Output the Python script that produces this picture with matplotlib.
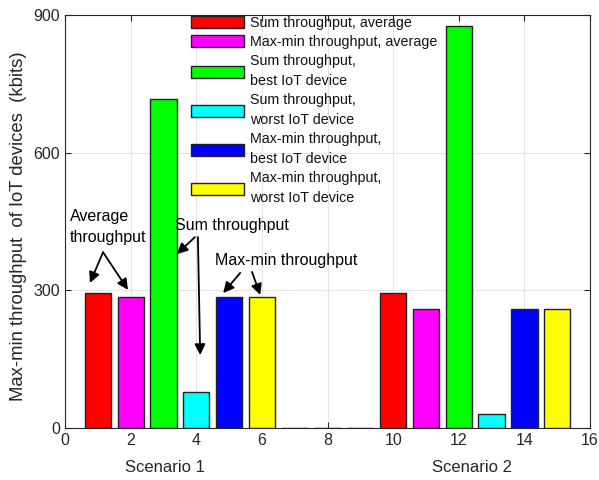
import matplotlib
matplotlib.use('Agg')
import matplotlib.pyplot as plt
import matplotlib.transforms as mtransforms

plt.rcParams['font.family'] = ['Liberation Sans', 'DejaVu Sans']

# data (kbits)
labels = ['Sum throughput, average',
          'Max-min throughput, average',
          'Sum throughput,\nbest IoT device',
          'Sum throughput,\nworst IoT device',
          'Max-min throughput,\nbest IoT device',
          'Max-min throughput,\nworst IoT device']
colors = ['#ff0000', '#ff00ff', '#00ff00', '#00ffff', '#0000ff', '#ffff00']
scenario1 = [295, 285, 718, 78, 285, 285]
scenario2 = [294, 260, 876, 30, 260, 260]
gap_pos = [7, 8, 9]
gap_vals = [0, 0, 0]
s1_start = 1
s2_start = 10
scenario_names = ['Scenario 1', 'Scenario 2']
scenario_x = [3.05, 12.4]

fig = plt.figure(figsize=(5.99, 4.8), dpi=100)
ax = fig.add_axes([65/599, 52/480, 525/599, 413/480])

dark = '#262626'
handles = []
for i in range(len(labels)):
    b = ax.bar([s1_start + i, s2_start + i], [scenario1[i], scenario2[i]], width=0.8,
               color=colors[i], edgecolor='#222222', linewidth=1.0, zorder=3, label=labels[i])
    handles.append(b)
ax.bar(gap_pos, gap_vals, width=0.8, color='w', edgecolor='#222222', linewidth=1.0, zorder=3)

ax.set_xlim(0, 16)
ax.set_ylim(0, 900)
ax.set_xticks(range(0, 17, 2))
ax.set_yticks([0, 300, 600, 900])
ax.grid(True, color='#e3e3e3', linewidth=0.8, zorder=0)
ax.set_axisbelow(True)
ax.tick_params(direction='in', top=True, right=True, labelsize=11.5, colors=dark, length=4)
for sp in ax.spines.values():
    sp.set_color(dark)
    sp.set_linewidth(0.8)

ax.set_ylabel('Max-min throughput  of IoT devices  (kbits)', fontsize=13.3, color=dark)
ax.yaxis.set_label_coords(-0.072, 0.488)

trans = mtransforms.blended_transform_factory(ax.transData, ax.transAxes)
for name, xs in zip(scenario_names, scenario_x):
    ax.text(xs, -0.095, name, transform=trans, ha='center', va='center', fontsize=12, color=dark)

# annotations
ap = dict(arrowstyle='-|>', color='k', lw=1.3, mutation_scale=16, shrinkA=0, shrinkB=0)
ax.text(0.15, 438, 'Average\nthroughput', ha='left', va='center', fontsize=11.5, linespacing=1.45)
ax.annotate('', xy=(0.76, 316), xytext=(1.16, 383), arrowprops=ap)
ax.annotate('', xy=(1.92, 301), xytext=(1.16, 383), arrowprops=ap)

ax.text(3.35, 442, 'Sum throughput', ha='left', va='center', fontsize=11.5)
ax.annotate('', xy=(3.41, 379), xytext=(3.96, 416), arrowprops=ap)
ax.annotate('', xy=(4.12, 159), xytext=(4.05, 416), arrowprops=ap)

ax.text(4.57, 366, 'Max-min throughput', ha='left', va='center', fontsize=11.5)
ax.annotate('', xy=(4.82, 294), xytext=(5.34, 338), arrowprops=ap)
ax.annotate('', xy=(5.95, 290), xytext=(5.70, 340), arrowprops=ap)

leg = ax.legend(handles=handles, loc='upper left', bbox_to_anchor=(0.221, 1.022),
                frameon=False, fontsize=10.3, handlelength=3.7, handleheight=0.95,
                handletextpad=0.45, labelspacing=0.35, borderpad=0.2)
for t in leg.get_texts():
    t.set_linespacing(1.55)
    t.set_color('#111111')

fig.savefig('out.png', dpi=100)
